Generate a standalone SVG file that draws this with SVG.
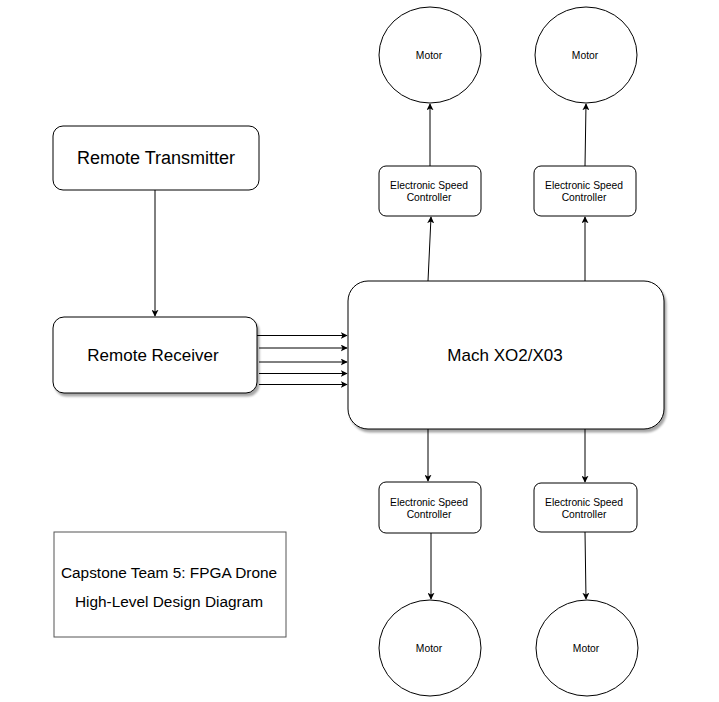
<svg xmlns="http://www.w3.org/2000/svg" width="719" height="702" viewBox="0 0 719 702">
<defs>
<filter id="sh" x="-10%" y="-10%" width="130%" height="130%">
<feDropShadow dx="2" dy="3" stdDeviation="1" flood-color="#000" flood-opacity="0.35"/>
</filter>
<marker id="ar" viewBox="0 0 10 10" refX="9" refY="5" markerWidth="7" markerHeight="7" markerUnits="userSpaceOnUse" orient="auto">
<path d="M0,0 L10,5 L0,10 L2.5,5 Z" fill="#000"/>
</marker>
</defs>
<style>
.box{fill:#fff;stroke:#000;stroke-width:1}
.t{font-family:"Liberation Sans",Arial,sans-serif;fill:#000;text-anchor:middle;dominant-baseline:central}
.big{font-size:17px}
.sm{font-size:10.3px}
.mo{font-size:10.3px}
.cap{font-size:15.4px}
.c{stroke:#000;stroke-width:1;fill:none;marker-end:url(#ar)}
</style>
<rect width="719" height="702" fill="#fff"/>
<g id="connectors">
<path class="c" d="M155,190 L155,316"/>
<path class="c" d="M257,335.5 L347,335.5"/>
<path class="c" d="M259,348 L347,348"/>
<path class="c" d="M259,362 L347,362"/>
<path class="c" d="M259,373.5 L347,373.5"/>
<path class="c" d="M259,384.5 L347,384.5"/>
<path class="c" d="M428,281 L431,217"/>
<path class="c" d="M430,166 L430,104"/>
<path class="c" d="M585,281 L585,217"/>
<path class="c" d="M585,166 L586,104"/>
<path class="c" d="M428,429 L428,481"/>
<path class="c" d="M585,429 L585,482"/>
<path class="c" d="M431,533 L431,599"/>
<path class="c" d="M585,532 L586,599"/>
</g>
<g id="remote-transmitter">
<rect class="box" x="53" y="126" width="206" height="64" rx="10"/>
<text class="t" style="font-size:18px" x="156" y="158">Remote Transmitter</text>
</g>
<g id="remote-receiver">
<rect class="box" x="53" y="317" width="204" height="76" rx="11" filter="url(#sh)"/>
<text class="t big" x="153" y="355">Remote Receiver</text>
</g>
<g id="mach">
<rect class="box" x="348" y="281" width="316" height="148" rx="20" filter="url(#sh)"/>
<text class="t big" x="505" y="355">Mach XO2/X03</text>
</g>
<g id="esc-top-left">
<rect class="box" x="379" y="166" width="102" height="50" rx="7"/>
<text class="t sm" x="429" y="185">Electronic Speed</text>
<text class="t sm" x="429" y="197">Controller</text>
</g>
<g id="esc-top-right">
<rect class="box" x="534" y="166" width="102" height="50" rx="7"/>
<text class="t sm" x="584" y="185">Electronic Speed</text>
<text class="t sm" x="584" y="197">Controller</text>
</g>
<g id="esc-bottom-left">
<rect class="box" x="379" y="482" width="102" height="51" rx="7"/>
<text class="t sm" x="429" y="502">Electronic Speed</text>
<text class="t sm" x="429" y="514">Controller</text>
</g>
<g id="esc-bottom-right">
<rect class="box" x="534" y="483" width="103" height="49" rx="7"/>
<text class="t sm" x="584" y="502">Electronic Speed</text>
<text class="t sm" x="584" y="514">Controller</text>
</g>
<g id="motor-top-left">
<ellipse class="box" cx="430" cy="55" rx="51" ry="48"/>
<text class="t mo" x="429" y="55">Motor</text>
</g>
<g id="motor-top-right">
<ellipse class="box" cx="586" cy="55" rx="51" ry="48"/>
<text class="t mo" x="585" y="55">Motor</text>
</g>
<g id="motor-bottom-left">
<ellipse class="box" cx="430" cy="648" rx="51" ry="48"/>
<text class="t mo" x="429" y="648">Motor</text>
</g>
<g id="motor-bottom-right">
<ellipse class="box" cx="587" cy="648" rx="51" ry="48"/>
<text class="t mo" x="586" y="648">Motor</text>
</g>
<g id="caption">
<rect x="54" y="532" width="232" height="105" fill="#fff" stroke="#555" stroke-width="1"/>
<text class="t cap" x="169" y="572">Capstone Team 5: FPGA Drone</text>
<text class="t cap" x="169" y="601">High-Level Design Diagram</text>
</g>
</svg>
